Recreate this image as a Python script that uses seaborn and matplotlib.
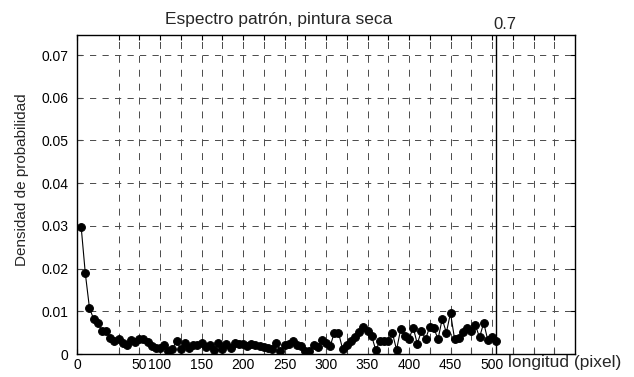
import numpy as np
import pandas as pd
import matplotlib
matplotlib.use("Agg")
import matplotlib.pyplot as plt
from matplotlib.transforms import blended_transform_factory
import seaborn as sns

# Longitud (pixel) de cada clase del espectro
longitud = np.arange(5, 506, 5)

# Densidad de probabilidad medida para cada longitud
densidad = [
    0.0298, 0.0189, 0.0108, 0.0082, 0.0073, 0.0055, 0.0055, 0.0037, 0.0031, 0.0035,
    0.0025, 0.0021, 0.0033, 0.0028, 0.0035, 0.0035, 0.0028, 0.0019, 0.0013, 0.0013,
    0.0021, 0.0008, 0.0012, 0.0031, 0.0012,
    0.0025, 0.0014, 0.0021, 0.0022, 0.0026, 0.0017, 0.0020, 0.0009, 0.0026, 0.0012,
    0.0023, 0.0014, 0.0026, 0.0023, 0.0023, 0.0019, 0.0023, 0.0020, 0.0018, 0.0017,
    0.0015, 0.0012, 0.0026, 0.0008, 0.0021, 0.0024, 0.0030, 0.0020,
    0.0018, 0.0008, 0.0008, 0.0022, 0.0016, 0.0033, 0.0025, 0.0018, 0.0050, 0.0050,
    0.0012, 0.0020, 0.0031, 0.0040, 0.0052, 0.0063, 0.0055, 0.0042, 0.0009, 0.0031,
    0.0031, 0.0031, 0.0049, 0.0010, 0.0058, 0.0042, 0.0035, 0.0062, 0.0024, 0.0054,
    0.0035, 0.0064, 0.0060, 0.0035, 0.0082, 0.0050, 0.0096, 0.0034, 0.0038, 0.0052,
    0.0062, 0.0055, 0.0067, 0.0039, 0.0073, 0.0032, 0.0039, 0.0031,
]

# Rotulos del eje x y su posicion
x_tick_pos = [0, 75, 100, 150, 200, 250, 300, 350, 400, 450, 500]
x_tick_lab = ["0", "50", "100", "150", "200", "250", "300", "350", "400", "450", "500"]
y_ticks = [0, 0.01, 0.02, 0.03, 0.04, 0.05, 0.06, 0.07]
y_tick_lab = ["0", "0.01", "0.02", "0.03", "0.04", "0.05", "0.06", "0.07"]

# Marca vertical
marca_x = 505
marca_texto = "0.7"

sns.set_style("ticks")
plt.rcParams["font.family"] = ["Liberation Sans", "DejaVu Sans"]
plt.rcParams["lines.scale_dashes"] = False

df = pd.DataFrame({"longitud": longitud, "densidad": densidad})

fig = plt.figure(figsize=(6.34, 3.77), dpi=100)
ax = fig.add_axes([77 / 634, 1 - 354 / 377, 498 / 634, 319 / 377])

sns.lineplot(data=df, x="longitud", y="densidad", ax=ax, color="black",
             linewidth=0.8, marker="o", markersize=5.6, markeredgecolor="black",
             markerfacecolor="black", zorder=4)

ax.set_xlim(0, 600)
ax.set_ylim(0, 0.0747)

# Rejilla discontinua
grid_pos = list(range(50, 600, 25))
major = sorted(set([0] + grid_pos))
labels = {p: l for p, l in zip(x_tick_pos, x_tick_lab)}
ax.set_xticks(major)
ax.set_xticklabels([labels.get(p, "") for p in major])
ax.set_yticks(y_ticks)
ax.set_yticklabels(y_tick_lab)

for p in grid_pos:
    ax.axvline(p, color="#4a4a4a", linewidth=0.7, linestyle=(0, (5, 5)), zorder=1)
for v in y_ticks[1:]:
    ax.axhline(v, color="#4a4a4a", linewidth=0.7, linestyle=(0, (4.5, 4.5)), zorder=1)

ax.tick_params(axis="both", direction="in", length=3.5, width=0.8, color="black",
               top=True, right=True, labelsize=10, colors="black")
ax.tick_params(axis="y", pad=6)
ax.tick_params(axis="x", pad=3)

for s in ax.spines.values():
    s.set_color("black")
    s.set_linewidth(1.0)

ax.axvline(marca_x, color="black", linewidth=1.0, zorder=3)
trans = blended_transform_factory(ax.transData, ax.transAxes)
ax.annotate(marca_texto, xy=(marca_x + 10, 1.0), xycoords=trans,
            xytext=(0, 4.5), textcoords="offset points",
            ha="center", va="baseline", fontsize=12)

ax.set_title("Espectro patrón, pintura seca", fontsize=12.5, x=0.405, y=1.0, pad=8)
ax.set_ylabel("Densidad de probabilidad", fontsize=11)
ax.yaxis.set_label_coords(-0.096, 0.545)
ax.set_xlabel("longitud (pixel)", fontsize=12.5)
ax.xaxis.label.set_va("baseline")
ax.xaxis.set_label_coords(0.979, -0.041)

fig.savefig("out.png", dpi=100)
